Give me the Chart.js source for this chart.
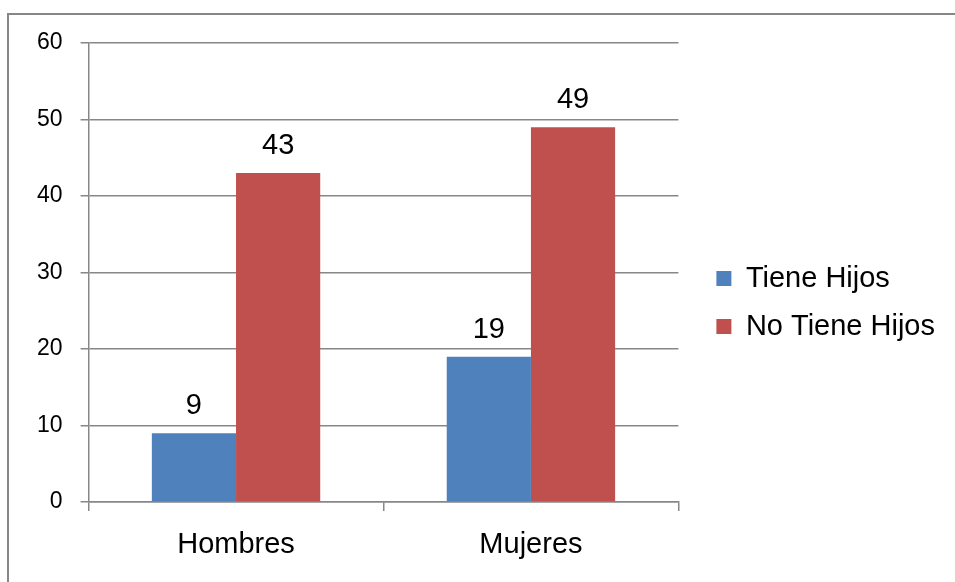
<!DOCTYPE html>
<html>
<head>
<meta charset="utf-8">
<script src="https://cdn.jsdelivr.net/npm/chart.js@4"></script>
<style>
  html, body { margin: 0; padding: 0; background: #fff; overflow: hidden; }
  .marco { position: absolute; left: 7px; top: 13px; width: 1000px; height: 1000px; border: 2px solid #878787; }
  .contenedor { position: absolute; left: 0; top: 0; width: 955px; height: 582px; }
</style>
</head>
<body>
<div class="marco"></div>
<div class="contenedor"><canvas id="grafico"></canvas></div>
<script>
const categorias = ['Hombres', 'Mujeres'];
const tieneHijos = [9, 19];
const noTieneHijos = [43, 49];
const ticksY = [0, 10, 20, 30, 40, 50, 60];

const fuente = '"Liberation Sans", Arial, sans-serif';
const gris = '#878787';

// etiquetas de valor encima de cada barra
const etiquetasValor = {
    id: 'etiquetasValor',
    afterDatasetsDraw(chart) {
        const ctx = chart.ctx;
        ctx.save();
        ctx.font = '29px ' + fuente;
        ctx.fillStyle = '#000';
        ctx.textAlign = 'center';
        ctx.textBaseline = 'alphabetic';
        chart.data.datasets.forEach((ds, i) => {
            chart.getDatasetMeta(i).data.forEach((barra, j) => {
                ctx.fillText(String(ds.data[j]), barra.x, barra.y - 19);
            });
        });
        ctx.restore();
    }
};

const ctx = document.getElementById('grafico').getContext('2d');
new Chart(ctx, {
    type: 'bar',
    data: {
        labels: categorias,
        datasets: [
            { label: 'Tiene Hijos', data: tieneHijos, backgroundColor: '#4F81BD' },
            { label: 'No Tiene Hijos', data: noTieneHijos, backgroundColor: '#C0504D' }
        ]
    },
    options: {
        responsive: true,
        maintainAspectRatio: false,
        animation: false,
        devicePixelRatio: 1,
        layout: { padding: { left: 19, top: 43, right: 10, bottom: 20 } },
        datasets: { bar: { categoryPercentage: 0.571, barPercentage: 1.0 } },
        scales: {
            x: {
                grid: { drawOnChartArea: false, drawTicks: true, tickLength: 9, color: gris, lineWidth: 1.5, offset: true },
                border: { display: true, color: gris, width: 1.5 },
                ticks: { color: '#000', padding: 17, font: { family: fuente, size: 29 } },
                afterFit: (escala) => { escala.height = 60; }
            },
            y: {
                min: 0,
                max: 60,
                afterBuildTicks: (escala) => { escala.ticks = ticksY.map(v => ({ value: v })); },
                grid: { color: gris, lineWidth: 1.5, tickLength: 8 },
                border: { display: true, color: gris, width: 1.5 },
                ticks: { color: '#000', padding: 18, font: { family: fuente, size: 23 } }
            },
            // eje vacio para separar la leyenda del area del grafico
            separador: {
                position: 'right',
                display: true,
                grid: { display: false },
                border: { display: false },
                ticks: { display: false },
                afterFit: (escala) => { escala.width = 19; }
            }
        },
        plugins: {
            legend: {
                position: 'right',
                maxWidth: 300,
                labels: {
                    boxWidth: 15,
                    boxHeight: 15,
                    padding: 19,
                    color: '#000',
                    font: { family: fuente, size: 29 }
                }
            },
            tooltip: { enabled: false }
        }
    },
    plugins: [etiquetasValor]
});
</script>
</body>
</html>
